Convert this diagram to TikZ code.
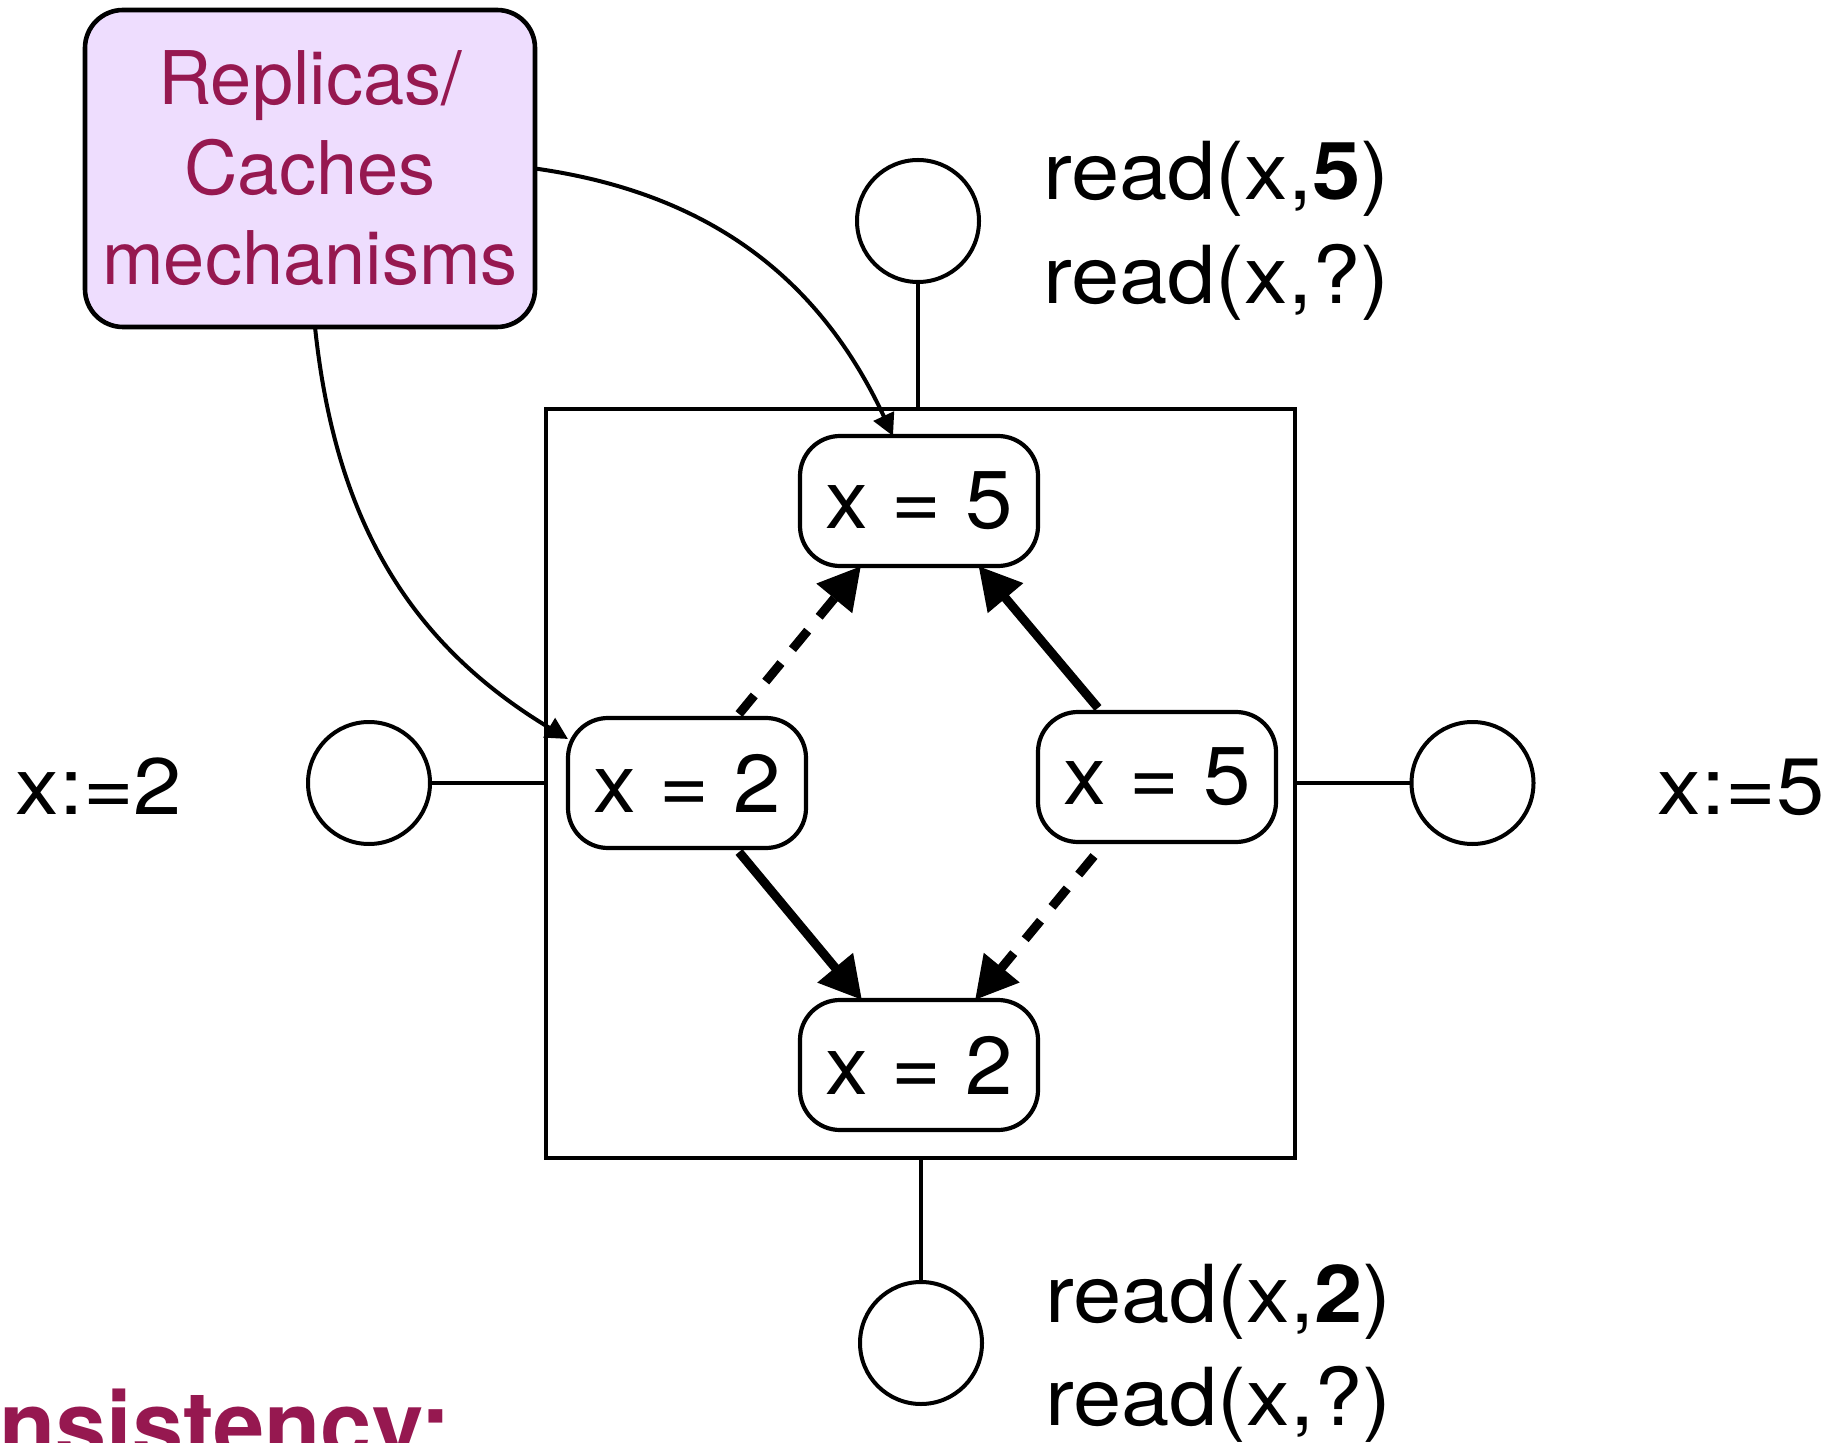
\documentclass[tikz,border=0pt]{standalone}
\usepackage{fontspec}
\setmainfont{TeX Gyre Heros}
\newfontfamily\widefont[FakeStretch=1.085]{TeX Gyre Heros}
\newfontfamily\midfont[FakeStretch=1.04]{TeX Gyre Heros}
\usetikzlibrary{arrows.meta}
\definecolor{maroon}{RGB}{150,24,80}
\definecolor{lav}{RGB}{238,221,254}
\begin{document}
\begin{tikzpicture}[x=0.5pt,y=0.5pt,
  every node/.style={inner sep=0pt, outer sep=0pt},
  rep/.style={draw, line width=2.3pt, fill=lav, rounded corners=19pt, minimum width=225pt, minimum height=158.5pt, align=center, text=maroon, font=\fontsize{37}{45}\selectfont},
  valbox/.style={draw, line width=2.1pt, fill=white, rounded corners=20pt, minimum width=119pt, minimum height=65pt, font=\midfont\fontsize{41}{49}\selectfont},
  proc/.style={circle, draw, line width=2pt, minimum size=61pt},
  lbl/.style={font=\widefont\fontsize{40}{48}\selectfont},
  link/.style={line width=2pt},
  feed/.style={line width=2pt, -{Triangle[length=11pt,width=11pt]}},
  prop/.style={line width=4.5pt, -{Triangle[length=21pt,width=22pt]}},
  propd/.style={prop, dash pattern=on 12pt off 9pt},
]
\useasboundingbox (0,0) rectangle (1831,-1443);

% enclosing square
\node[draw, line width=2.2pt, minimum width=374.5pt, minimum height=374.5pt] (sq) at (920.5,-783.5) {};

% value boxes
\node[valbox] (nt) at (919,-501) {x = 5};
\node[valbox] (nl) at (687,-783) {x = 2};
\node[valbox] (nr) at (1157,-777) {x = 5};
\node[valbox] (nb) at (919,-1065) {x = 2};

% processes
\node[proc] (ct) at (918,-221) {};
\node[proc] (cl) at (369,-783) {};
\node[proc] (cr) at (1472.5,-783) {};
\node[proc] (cb) at (921,-1343) {};

\draw[link] (ct) -- (ct |- sq.north);
\draw[link] (cl) -- (cl -| sq.west);
\draw[link] (cr) -- (cr -| sq.east);
\draw[link] (cb) -- (cb |- sq.south);

% labels
\node[lbl, anchor=base] (wl) at (99,-814) {x:=2};
\node[lbl, anchor=base] (wr) at (1741,-814) {x:=5};
\node[lbl, anchor=base west] (rt1) at (1043,-200) {read(x,\textbf{5})};
\node[lbl, anchor=base west] (rt2) at (1043,-304) {read(x,?)};
\node[lbl, anchor=base west] (rb1) at (1045,-1322) {read(x,\textbf{2})};
\node[lbl, anchor=base west] (rb2) at (1045,-1425) {read(x,?)};

% replicas box
\node[rep] (rc) at (310,-168.5) {Replicas/\\Caches\\mechanisms};

% bottom title (cut)
\node[anchor=base east, text=maroon, font=\bfseries\fontsize{46}{55}\selectfont] (title) at (451,-1457) {Consistency:};

% feed curves
\draw[feed] (rc.east) to[out=-8, in=115] ([xshift=-13pt]nt.north);
\draw[feed] ([xshift=2.5pt]rc.south) to[out=-84, in=149] ([yshift=22pt]nl.west);

% propagation arrows
\draw[prop] ([xshift=-29.5pt,yshift=2pt]nr.north) -- ([xshift=29.75pt]nt.south);
\draw[propd] ([xshift=26pt,yshift=2pt]nl.north) -- ([xshift=-29pt]nt.south);
\draw[prop] ([xshift=26pt,yshift=-2pt]nl.south) -- ([xshift=-28.5pt]nb.north);
\draw[propd] ([xshift=-31.5pt,yshift=-7pt]nr.south) -- ([xshift=28pt]nb.north);
\end{tikzpicture}
\end{document}
